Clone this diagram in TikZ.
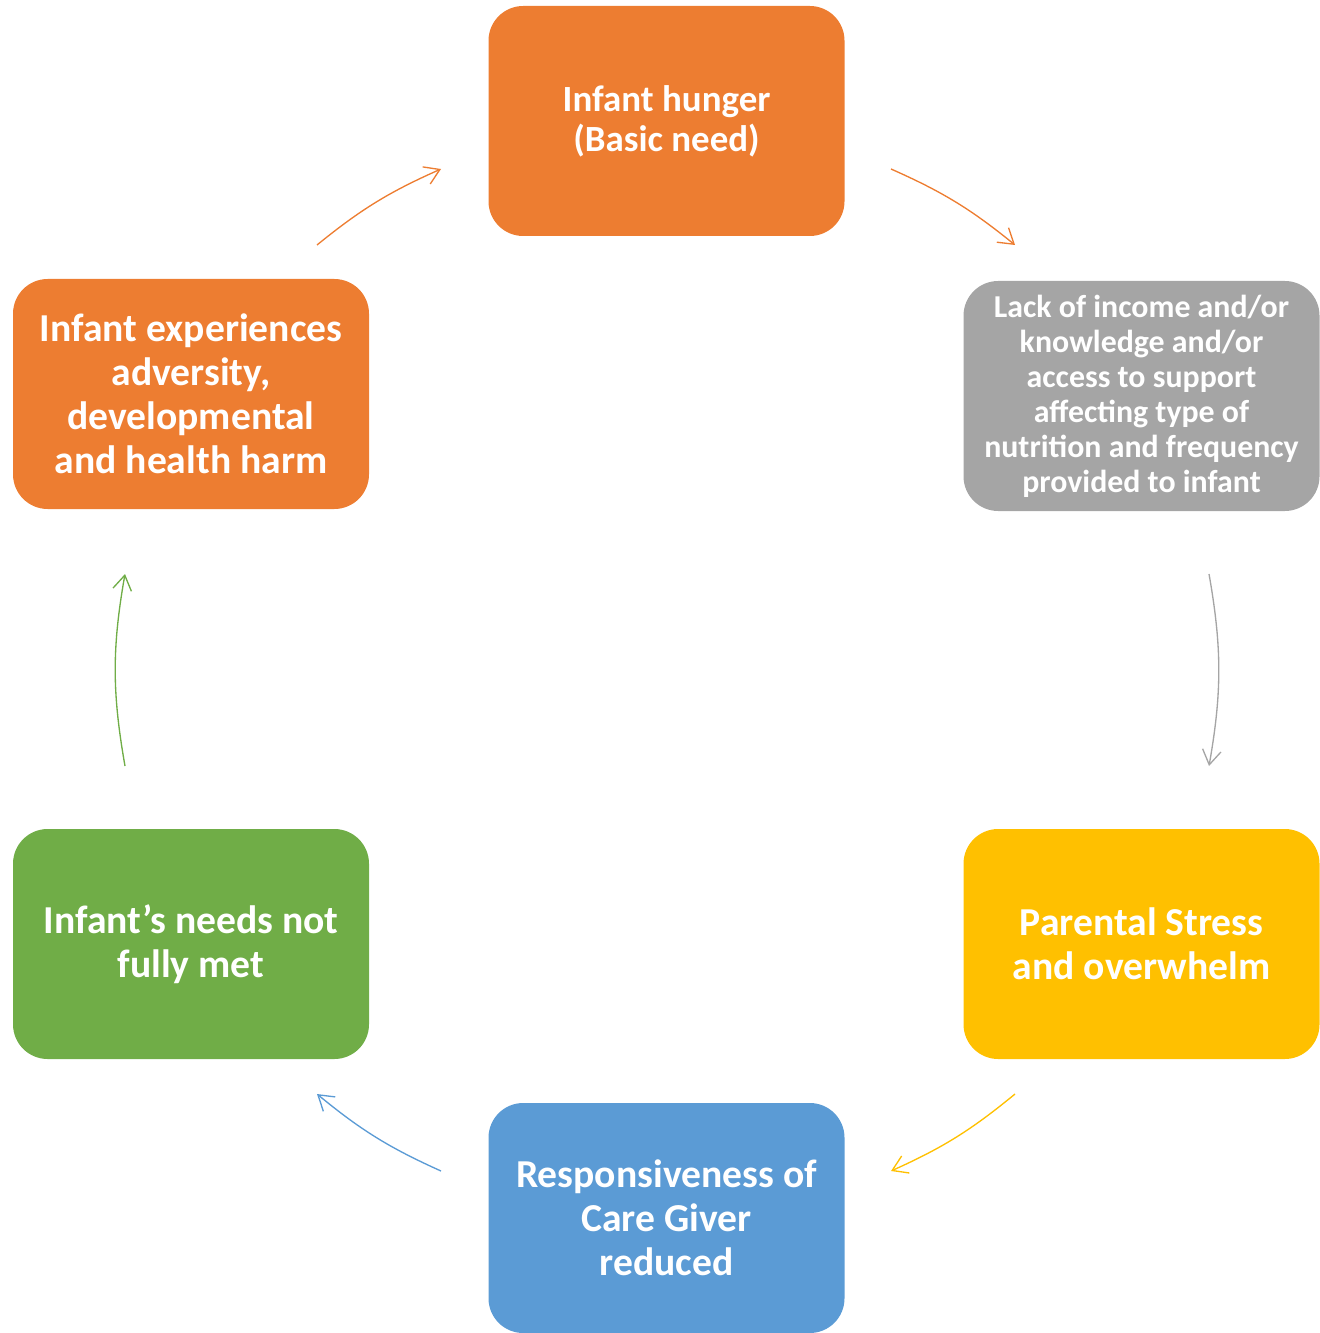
\documentclass[tikz,border=0pt]{standalone}
\usepackage{fontspec}
\setmainfont{Carlito}
\usetikzlibrary{arrows.meta}
\definecolor{corange}{HTML}{ED7D31}
\definecolor{cgray}{HTML}{A5A5A5}
\definecolor{cyellow}{HTML}{FFC000}
\definecolor{cblue}{HTML}{5B9BD5}
\definecolor{cgreen}{HTML}{70AD47}
\begin{document}
\begin{tikzpicture}[x=0.75pt,y=-0.75pt,
  box/.style={rounded corners=26pt, minimum width=267pt, minimum height=172.5pt,
    inner sep=0pt, text=white, align=center, font=\bfseries},
  bigtxt/.style={font=\bfseries\fontsize{29.7}{33}\selectfont},
  arr/.style={line width=1pt, -{Straight Barb[length=11pt,width=14pt,line width=1pt]}}]
\useasboundingbox (0,0) rectangle (1319,1333);
\node[box, fill=corange, font=\bfseries\fontsize{27.7}{30}\selectfont] (hunger) at (666.5,121) {Infant hunger\\(Basic need)};
\node[box, fill=cgray, font=\bfseries\fontsize{23.9}{26.25}\selectfont] (lack) at (1141.5,396) {Lack of income and/or\\knowledge and/or\\access to support\\affecting type of\\nutrition and frequency\\provided to infant};
\node[box, fill=cyellow, bigtxt] (stress) at (1141.5,944) {Parental Stress\\and overwhelm};
\node[box, fill=cblue, bigtxt] (resp) at (666.5,1218) {Responsiveness of\\Care Giver\\reduced};
\node[box, fill=cgreen, bigtxt] (needs) at (191,944) {Infant’s needs not\\fully met};
\node[box, fill=corange, bigtxt] (harm) at (191,394) {Infant experiences\\adversity,\\developmental\\and health harm};

\coordinate (a1s) at (891,169);  \coordinate (a1e) at (1015,245);
\coordinate (a2s) at (1209,574); \coordinate (a2e) at (1209,766);
\coordinate (a3s) at (1015,1094); \coordinate (a3e) at (891,1171);
\coordinate (a4s) at (441,1171); \coordinate (a4e) at (317,1094);
\coordinate (a5s) at (125,766); \coordinate (a5e) at (125,574);
\coordinate (a6s) at (317,245); \coordinate (a6e) at (441,169);

\draw[arr, corange] (a1s) to[bend left=7.6] (a1e);
\draw[arr, cgray] (a2s) to[bend left=10] (a2e);
\draw[arr, cyellow] (a3s) to[bend left=7.6] (a3e);
\draw[arr, cblue] (a4s) to[bend left=7.6] (a4e);
\draw[arr, cgreen] (a5s) to[bend left=10] (a5e);
\draw[arr, corange] (a6s) to[bend left=7.6] (a6e);
\end{tikzpicture}
\end{document}
